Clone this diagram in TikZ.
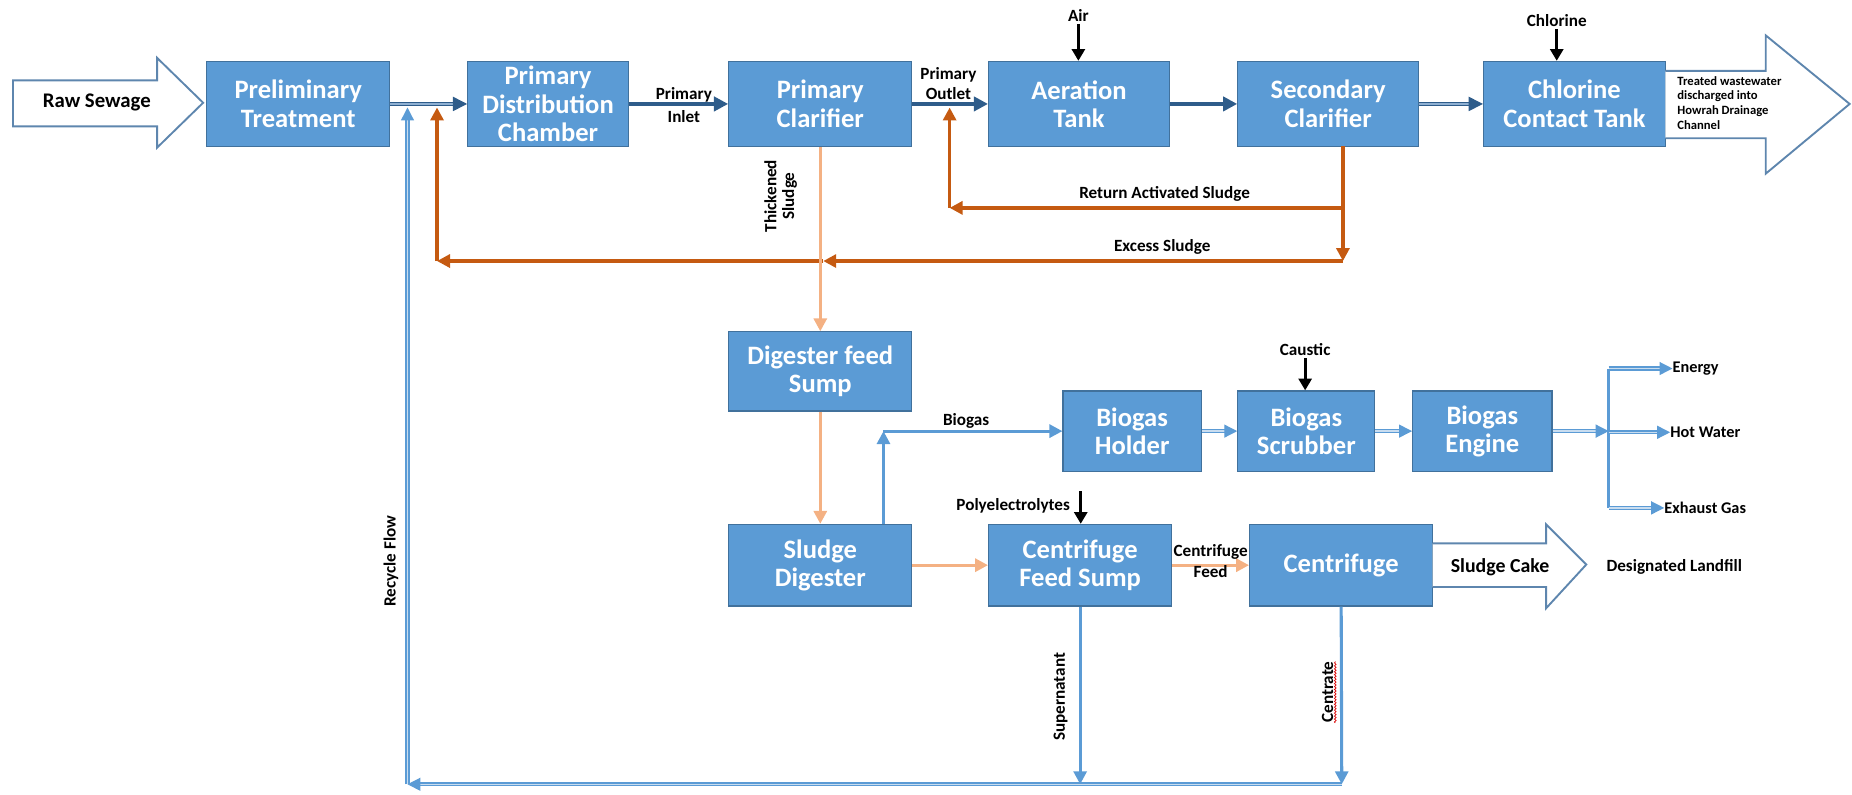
\documentclass[tikz,border=0pt]{standalone}
\usepackage{fontspec}
\setmainfont{Carlito}
\usetikzlibrary{arrows.meta,decorations.pathmorphing}
\definecolor{boxfill}{HTML}{5B9BD5}
\definecolor{boxedge}{HTML}{41719C}
\definecolor{deepflow}{HTML}{2E5C8A}
\definecolor{deepinner}{HTML}{8FB0D2}
\definecolor{sludge}{HTML}{C55A11}
\definecolor{lightsludge}{HTML}{F4B183}
\definecolor{gasline}{HTML}{5B9BD5}
\definecolor{gasinner}{HTML}{C9DDF0}
\definecolor{hollowedge}{HTML}{5E86AE}

% process box given by its corners: name, x1, y1, x2, y2, text
\newcommand\procbox[6]{%
  \node[unit box, minimum width={#4-#2}, minimum height={#5-#3}]
    (#1) at ({(#2+#4)/2},{(#3+#5)/2}) {#6};}

\begin{document}
\begin{tikzpicture}[x=1pt, y=-1pt,
  unit box/.style={draw=boxedge, fill=boxfill, line width=1pt, text=white,
    align=center, inner sep=0pt, font=\bfseries\fontsize{22.5}{24}\selectfont},
  lbl/.style={font=\bfseries\fontsize{14.5}{15}\selectfont, inner sep=0pt, text=black},
  smalllbl/.style={font=\bfseries\fontsize{13.8}{14}\selectfont, inner sep=0pt, text=black},
  bigtip/.style={-{Triangle[length=12pt,width=12pt]}},
  midtip/.style={-{Triangle[length=11pt,width=11pt]}},
  deep/.style={draw=deepflow, line width=3pt, bigtip},
  deep double/.style={draw=deepflow, line width=1.2pt, double=deepinner,
    double distance=1.4pt, bigtip},
  rust/.style={draw=sludge, line width=2.8pt, midtip},
  peach/.style={draw=lightsludge, line width=2.8pt, midtip},
  gas/.style={draw=gasline, line width=2.6pt, midtip},
  gas double/.style={draw=gasline, line width=1.1pt, double=gasinner,
    double distance=1.3pt, midtip},
  dose/.style={draw=black, line width=2.6pt,
    -{Triangle[length=10pt,width=11pt]}},
  hollow/.style={draw=hollowedge, fill=white, line width=1.6pt,
    line join=miter}
]
\path[use as bounding box] (0,0) rectangle (1568,673);

% ---------------- main treatment line ----------------
\procbox{prelim}{175}{52}{330}{124}{Preliminary\\Treatment}
\procbox{dist}{396}{52}{532}{124}{Primary\\Distribution\\Chamber}
\procbox{pclar}{617}{52}{772}{124}{Primary\\Clarifier}
\procbox{aer}{837}{52}{990}{124}{Aeration\\Tank}
\procbox{sclar}{1048}{52}{1201}{124}{Secondary\\Clarifier}
\procbox{chlor}{1256}{52}{1410}{124}{Chlorine\\Contact Tank}

% ---------------- sludge and biogas line ----------------
\procbox{dfs}{617}{281}{772}{348}{Digester feed\\Sump}
\procbox{sdig}{617}{444}{772}{513}{Sludge\\Digester}
\procbox{holder}{900}{331}{1017}{399}{Biogas\\Holder}
\procbox{scrub}{1048}{331}{1164}{399}{Biogas\\Scrubber}
\procbox{engine}{1196}{331}{1314}{399}{Biogas\\Engine}
\procbox{cfs}{837}{444}{992}{513}{Centrifuge\\Feed Sump}
\procbox{cent}{1058}{444}{1213}{513}{Centrifuge}

% ---------------- inflow / outflow block arrows ----------------
\draw[hollow] (11,68) -- (133,68) -- (133,49) -- (172,87) -- (133,125)
  -- (133,107) -- (11,107) -- cycle;
\node[font=\bfseries\fontsize{17.6}{18}\selectfont, inner sep=0pt]
  (raw) at (82,87) {Raw Sewage};

\draw[hollow] (1410,60) -- (1495,60) -- (1495,30) -- (1566,88)
  -- (1495,147) -- (1495,117) -- (1410,117);
\node[anchor=west, align=left, inner sep=0pt,
  font=\bfseries\fontsize{10.7}{12.5}\selectfont]
  (treated) at (1420,87) {Treated wastewater\\discharged into\\Howrah Drainage\\Channel};

\draw[hollow] (1213,460) -- (1309,460) -- (1309,444) -- (1343,478)
  -- (1309,515) -- (1309,497) -- (1213,497);
\node[font=\bfseries\fontsize{16.8}{17}\selectfont, inner sep=0pt]
  (cake) at (1270,480) {Sludge Cake};
\node[lbl, anchor=west] (landfill) at (1360,480) {Designated Landfill};

% ---------------- liquid train connectors ----------------
\draw[deep double] (prelim.east) -- (dist.west);
\draw[deep] (dist.east) -- (pclar.west);
\draw[deep] (pclar.east) -- (aer.west);
\draw[deep] (aer.east) -- (sclar.west);
\draw[deep double] (sclar.east) -- (chlor.west);

\node[lbl, align=center, font=\bfseries\fontsize{14.5}{19}\selectfont]
  (inletlbl) at (579,89) {Primary\\Inlet};
\node[lbl, align=center, font=\bfseries\fontsize{14.5}{17}\selectfont]
  (outletlbl) at (803,71) {Primary\\Outlet};

% chemical dosing
\node[lbl] (airlbl) at (913,13) {Air};
\draw[dose, shorten <=2pt] (airlbl.south) -- (airlbl.south |- aer.north);
\node[lbl] (chllbl) at (1318,17) {Chlorine};
\draw[dose, shorten <=2pt] (chllbl.south) -- (chllbl.south |- chlor.north);
\node[lbl] (caulbl) at (1105,296) {Caustic};
\draw[dose, shorten <=2pt] (caulbl.south) -- (caulbl.south |- scrub.north);
\node[lbl, anchor=east] (polylbl) at (906,428) {Polyelectrolytes};
\coordinate (polytop) at (915,416);
\draw[dose] (polytop) -- (polytop |- cfs.north);

% ---------------- return and excess sludge ----------------
\coordinate (sectap) at (1137,124);
\coordinate (rasR) at (1137,176);
\coordinate (rasL) at (804,176);
\coordinate (rasT) at (804,91);
\coordinate (wasR) at (1137,221);
\coordinate (wasM) at (697,221);
\coordinate (wasL) at (370,221);
\coordinate (wasT) at (370,91);

\draw[rust, -] (sectap) -- (rasR);
\draw[rust] (rasR) -- (wasR);
\draw[rust] (rasR) -- (rasL);
\draw[rust] (rasL) -- (rasT);
\draw[rust] (wasR) -- (wasM);
\draw[rust] (wasM) -- (wasL);
\draw[rust] (wasL) -- (wasT);
\node[lbl] (raslbl) at (986,164) {Return Activated Sludge};
\node[lbl] (waslbl) at (984,209) {Excess Sludge};

% ---------------- sludge train ----------------
\draw[peach] (pclar.south) -- (dfs.north);
\node[lbl, rotate=90, align=center] (thicklbl) at (661,166) {Thickened\\Sludge};
\draw[peach] (dfs.south) -- (sdig.north);
\draw[peach] (sdig.east) -- (cfs.west);
\draw[peach] (cfs.east) -- (cent.west);
\node[lbl, align=center, font=\bfseries\fontsize{14.5}{17}\selectfont]
  (cflbl) at (1025,475) {Centrifuge\\Feed};

% ---------------- biogas train ----------------
\coordinate (gasfoot) at (748,444);
\coordinate (gascorner) at (748,365);
\draw[gas] (gasfoot) -- (gascorner);
\draw[gas] (gascorner) -- (holder.west);
\node[lbl] (gaslbl) at (818,356) {Biogas};
\draw[gas double] (holder.east) -- (scrub.west);
\draw[gas double] (scrub.east) -- (engine.west);
\coordinate (splitM) at (1362,365);
\coordinate (splitT) at (1362,312);
\coordinate (splitB) at (1362,430);
\draw[gas double] (engine.east) -- (splitM);
\draw[draw=gasline, line width=2.6pt] (splitT) -- (splitB);
\node[smalllbl, anchor=west] (energy) at (1416,312) {Energy};
\node[smalllbl, anchor=west] (hotwater) at (1414,366) {Hot Water};
\node[smalllbl, anchor=west] (exhaust) at (1409,430) {Exhaust Gas};
\draw[gas double] (splitT) -- (splitT -| energy.west);
\draw[gas double] (splitM |- hotwater.west) -- (hotwater.west);
\draw[gas double] (splitB) -- (exhaust.west);

% ---------------- recycle flow ----------------
\coordinate (recR) at (1136,664);
\coordinate (recL) at (345,664);
\coordinate (recT) at (345,91);
\draw[gas] (cfs.south) -- (cfs.south |- recR);
\draw[gas] (cent.south) -- (recR);
\draw[gas double] (recR) -- (recL);
\draw[gas double] (recL) -- (recT);
\node[lbl, rotate=90] (superlbl) at (898,590) {Supernatant};
\node[lbl, rotate=90] (centratelbl) at (1124,586) {Centrate};
\draw[red!85!black, line width=0.6pt, decorate,
  decoration={snake, amplitude=0.7pt, segment length=2.5pt}]
  ([xshift=1.5pt]centratelbl.south west) -- ([xshift=1.5pt]centratelbl.south east);
\node[lbl, rotate=90] (recyclbl) at (331,475) {Recycle Flow};
\end{tikzpicture}
\end{document}
